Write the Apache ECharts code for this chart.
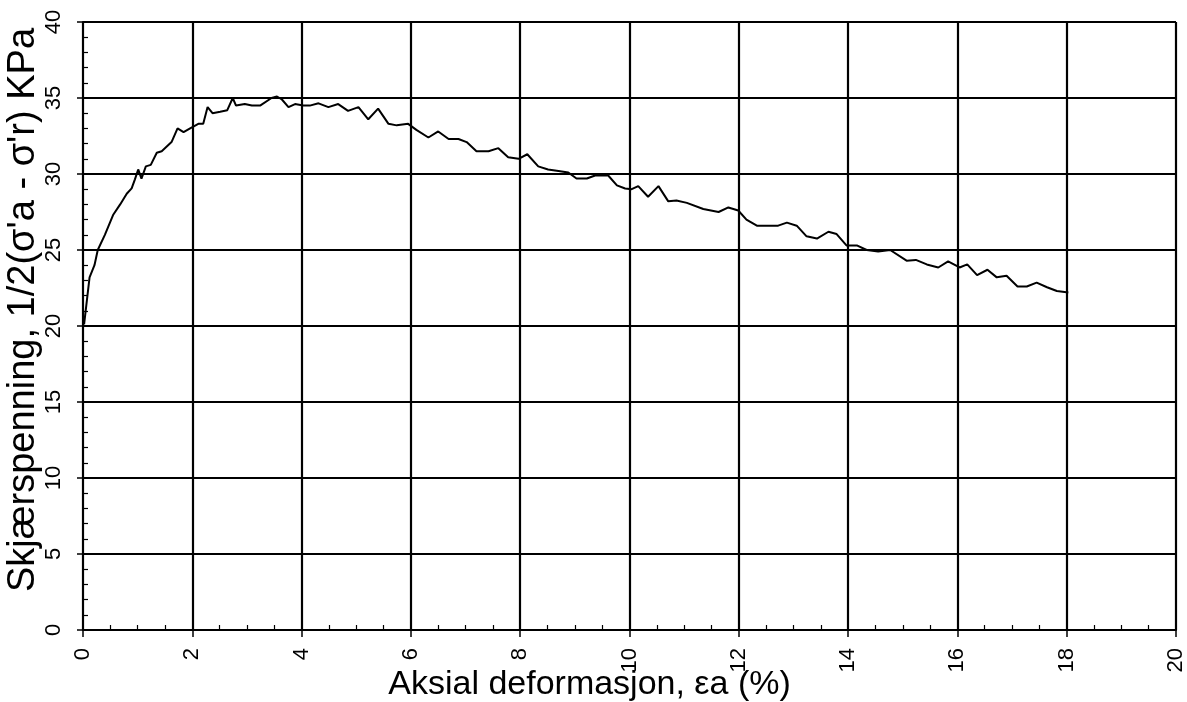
<!DOCTYPE html>
<html>
<head>
<meta charset="utf-8">
<script src="https://cdn.jsdelivr.net/npm/echarts@6/dist/echarts.min.js"></script>
<style>
html,body{margin:0;padding:0;background:#fff;}
#chart{width:1187px;height:702px;}
</style>
</head>
<body>
<div id="chart"></div>
<script>
// Aksial deformasjon (%)
const strain = [0.02,0.12,0.21,0.27,0.40,0.55,0.68,0.80,0.89,0.95,1.01,1.07,1.15,1.24,1.35,1.44,1.62,1.73,1.84,1.96,2.11,2.20,2.28,2.37,2.51,2.64,2.74,2.80,2.96,3.09,3.24,3.45,3.55,3.64,3.76,3.88,4.03,4.15,4.31,4.49,4.67,4.85,5.04,5.22,5.40,5.59,5.74,5.95,6.10,6.32,6.50,6.69,6.87,7.02,7.20,7.42,7.60,7.78,7.97,8.13,8.33,8.51,8.70,8.88,9.03,9.22,9.37,9.61,9.77,9.92,10.04,10.16,10.34,10.53,10.71,10.86,11.05,11.35,11.63,11.81,11.99,12.14,12.33,12.51,12.72,12.88,13.06,13.24,13.43,13.64,13.79,13.97,14.16,14.34,14.55,14.77,15.07,15.24,15.44,15.65,15.83,16.04,16.18,16.36,16.55,16.72,16.90,17.10,17.27,17.45,17.64,17.82,18.03];
// Skjærspenning (kPa)
const shear = [20.1,23.2,24.0,25.0,26.0,27.3,28.0,28.7,29.05,29.65,30.3,29.7,30.5,30.6,31.4,31.5,32.1,33.0,32.75,33.0,33.3,33.3,34.4,34.0,34.1,34.2,35.0,34.5,34.6,34.5,34.5,35.0,35.1,34.9,34.4,34.6,34.5,34.5,34.65,34.4,34.6,34.15,34.4,33.6,34.3,33.3,33.2,33.3,32.9,32.4,32.8,32.3,32.3,32.1,31.5,31.5,31.7,31.1,31.0,31.3,30.5,30.3,30.2,30.1,29.7,29.7,29.9,29.9,29.25,29.05,29.0,29.2,28.5,29.2,28.2,28.25,28.1,27.7,27.5,27.8,27.6,27.0,26.6,26.6,26.6,26.8,26.6,25.9,25.75,26.2,26.05,25.3,25.3,25.0,24.9,25.0,24.3,24.35,24.05,23.85,24.25,23.85,24.05,23.35,23.7,23.2,23.3,22.6,22.6,22.85,22.55,22.3,22.2];

const xTitle = 'Aksial deformasjon, εa (%)';
const yTitle = "Skjærspenning, 1/2(σ'a - σ'r) KPa";

const points = strain.map((x, i) => [x, shear[i]]);
const font = 'Liberation Sans, Arial, sans-serif';

const chart = echarts.init(document.getElementById('chart'));
const black = '#000';
chart.setOption({
  animation: false,
  backgroundColor: '#fff',
  grid: {left: 83, right: 11, top: 22, bottom: 72, containLabel: false, outerBoundsMode: 'none'},
  xAxis: [{
    type: 'value', min: 0, max: 20, interval: 2,
    name: xTitle, nameLocation: 'middle', nameGap: 38, nameMoveOverlap: false,
    nameTextStyle: {color: black, fontSize: 34, fontFamily: font, padding: [0, 80, 0, 0]},
    axisLine: {show: true, onZero: false, lineStyle: {color: black, width: 2}},
    axisTick: {show: true, length: 7, lineStyle: {color: black, width: 1.5}},
    axisLabel: {rotate: 90, margin: 18, color: black, fontSize: 22, fontFamily: font},
    splitLine: {show: true, lineStyle: {color: black, width: 2.2}}
  }, {
    type: 'value', min: 0, max: 20, interval: 2, position: 'bottom',
    axisLine: {show: false}, axisLabel: {show: false}, splitLine: {show: false},
    axisTick: {show: false, inside: true},
    minorTick: {show: true, splitNumber: 4, length: 5, lineStyle: {color: black, width: 1.2}}
  }],
  yAxis: [{
    type: 'value', min: 0, max: 40, interval: 5,
    name: yTitle, nameLocation: 'middle', nameGap: 40, nameMoveOverlap: false,
    nameTextStyle: {color: black, fontSize: 38, fontFamily: font, padding: [0, 0, 0, 32]},
    axisLine: {show: true, onZero: false, lineStyle: {color: black, width: 2}},
    axisTick: {show: true, length: 6, lineStyle: {color: black, width: 1.5}},
    axisLabel: {rotate: 90, margin: 18, color: black, fontSize: 22, fontFamily: font},
    splitLine: {show: true, lineStyle: {color: black, width: 2.2}}
  }, {
    type: 'value', min: 0, max: 40, interval: 5, position: 'left',
    axisLine: {show: false}, axisLabel: {show: false}, splitLine: {show: false},
    axisTick: {show: false, inside: true},
    minorTick: {show: true, splitNumber: 5, length: 5, lineStyle: {color: black, width: 1.2}}
  }],
  series: [{
    type: 'line', data: points, showSymbol: false, symbol: 'none',
    xAxisIndex: 0, yAxisIndex: 0,
    lineStyle: {color: black, width: 2}
  }]
});
</script>
</body>
</html>
